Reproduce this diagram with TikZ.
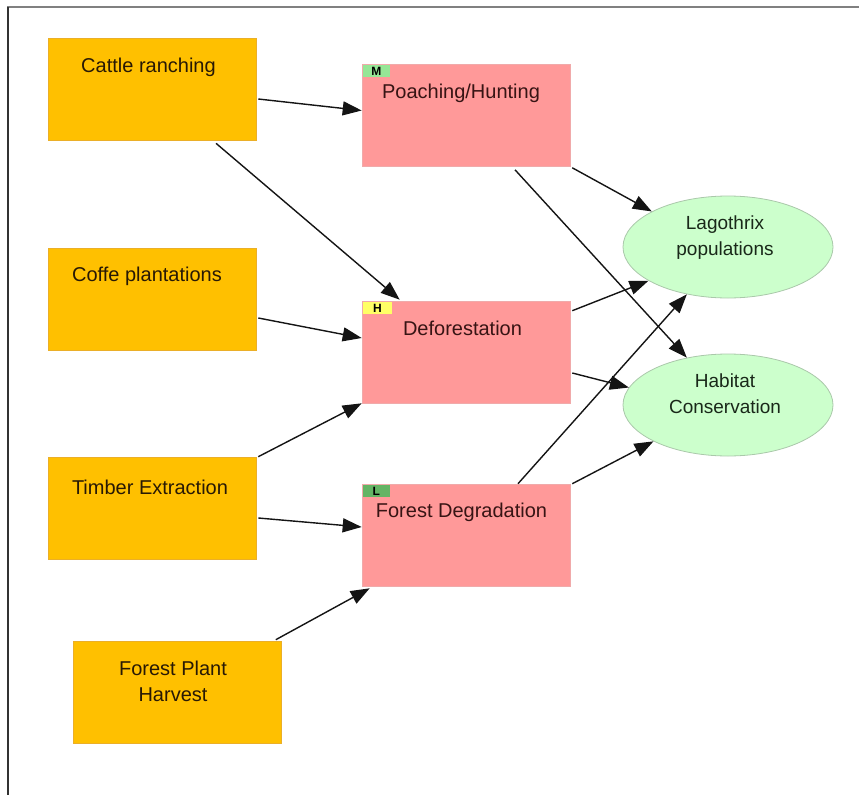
\documentclass[tikz,border=0pt]{standalone}
\usepackage{fontspec}
\setmainfont{Liberation Sans}
\usetikzlibrary{arrows.meta,calc,shapes.geometric}
\definecolor{srcfill}{RGB}{255,192,0}
\definecolor{srcdraw}{RGB}{235,175,40}
\definecolor{thrfill}{RGB}{255,153,153}
\definecolor{thrdraw}{RGB}{240,170,170}
\definecolor{tgtfill}{RGB}{204,255,204}
\definecolor{tgtdraw}{RGB}{170,200,170}
\definecolor{badgeM}{RGB}{150,230,150}
\definecolor{badgeH}{RGB}{255,255,102}
\definecolor{badgeL}{RGB}{100,180,100}
\definecolor{txtsrc}{RGB}{40,25,5}
\definecolor{txtthr}{RGB}{55,20,20}
\definecolor{txttgt}{RGB}{25,40,25}
\begin{document}
\begin{tikzpicture}[x=1pt,y=-1pt,
  srcbox/.style={rectangle,fill=srcfill,draw=srcdraw,line width=0.6pt,minimum width=208pt,minimum height=102pt,inner sep=0pt},
  thrbox/.style={rectangle,fill=thrfill,draw=thrdraw,line width=0.6pt,minimum width=208pt,minimum height=102pt,inner sep=0pt},
  tgtell/.style={ellipse,fill=tgtfill,draw=tgtdraw,line width=0.8pt,minimum width=210pt,minimum height=102pt,inner sep=0pt},
  srctxt/.style={font=\fontsize{20}{26}\selectfont,text=txtsrc,align=center,inner sep=0pt},
  thrtxt/.style={font=\fontsize{20}{26}\selectfont,text=txtthr,align=center,inner sep=0pt},
  tgttxt/.style={font=\fontsize{19}{26}\selectfont,text=txttgt,align=center,inner sep=0pt},
  badge/.style={rectangle,minimum width=27pt,minimum height=12pt,inner sep=0pt,anchor=north west,font=\fontsize{12}{12}\selectfont\bfseries,text=black},
  arr/.style={line width=1.4pt,draw={rgb,255:red,20;green,20;blue,20},-{Triangle[length=19pt,width=14pt]}}
]
\useasboundingbox (0,0) rectangle (859,795);
% frame
\draw[line width=2pt,draw={rgb,255:red,128;green,128;blue,128}] (7,7) -- (859,7);
\draw[line width=1.4pt,draw={rgb,255:red,50;green,50;blue,50}] (8,7) -- (8,795);

% source boxes
\node[srcbox] (cattle) at (152,89) {};
\node[srcbox] (coffe) at (152,299.5) {};
\node[srcbox] (timber) at (152,508) {};
\node[srcbox] (harvest) at (177.5,692) {};
\node[srctxt] (cattleT) at (148.5,67) {Cattle ranching};
\node[srctxt] (coffeT) at (147,276) {Coffe plantations};
\node[srctxt] (timberT) at (150,487) {Timber Extraction};
\node[srctxt] (harvestT) at (173,681) {Forest Plant\\Harvest};

% threat boxes
\node[thrbox] (poach) at (466,115.5) {};
\node[thrbox] (defor) at (466,352) {};
\node[thrbox] (fdeg) at (466,535) {};
\node[badge,fill=badgeM] (bM) at ($(poach.north west)+(1,1)$) {M};
\node[badge,fill=badgeH,minimum width=29pt] (bH) at ($(defor.north west)+(1,1)$) {H};
\node[badge,fill=badgeL] (bL) at ($(fdeg.north west)+(1,1)$) {L};
\node[thrtxt] (poachT) at (461,93) {Poaching/Hunting};
\node[thrtxt] (deforT) at (462.5,328) {Deforestation};
\node[thrtxt] (fdegT) at (461.5,512) {Forest Degradation};

% targets
\node[tgtell] (lago) at (728,247) {};
\node[tgtell] (hab) at (728,405) {};
\node[tgttxt] (lagoT) at (725,237.5) {Lagothrix\\populations};
\node[tgttxt] (habT) at (725,394) {Habitat\\Conservation};

% connectors
\draw[arr] ($(cattle.east)+(2,10)$) -- ($(poach.west)+(0,-5)$);
\draw[arr] ($(cattle.south)+(64,3)$) -- ($(defor.north west)+(38,-1)$);
\draw[arr] ($(coffe.east)+(2,18.5)$) -- ($(defor.west)+(0,-14)$);
\draw[arr] ($(timber.north east)+(2,0)$) -- (defor.south west);
\draw[arr] ($(timber.east)+(2,10)$) -- ($(fdeg.west)+(0,-8)$);
\draw[arr] ($(harvest.north east)+(-6,-1)$) -- ($(fdeg.south west)+(8,2)$);
\draw[arr] ($(poach.south east)+(2,1)$) -- (lago.155);
\draw[arr] ($(poach.south)+(49,3)$) -- (hab.131);
\draw[arr] ($(defor.north east)+(2,10)$) -- (lago.203);
\draw[arr] ($(defor.east)+(2,21)$) -- (hab.170);
\draw[arr] ($(fdeg.north)+(52,0)$) -- (lago.229);
\draw[arr] ($(fdeg.north east)+(2,0)$) -- (hab.206);
\end{tikzpicture}
\end{document}
